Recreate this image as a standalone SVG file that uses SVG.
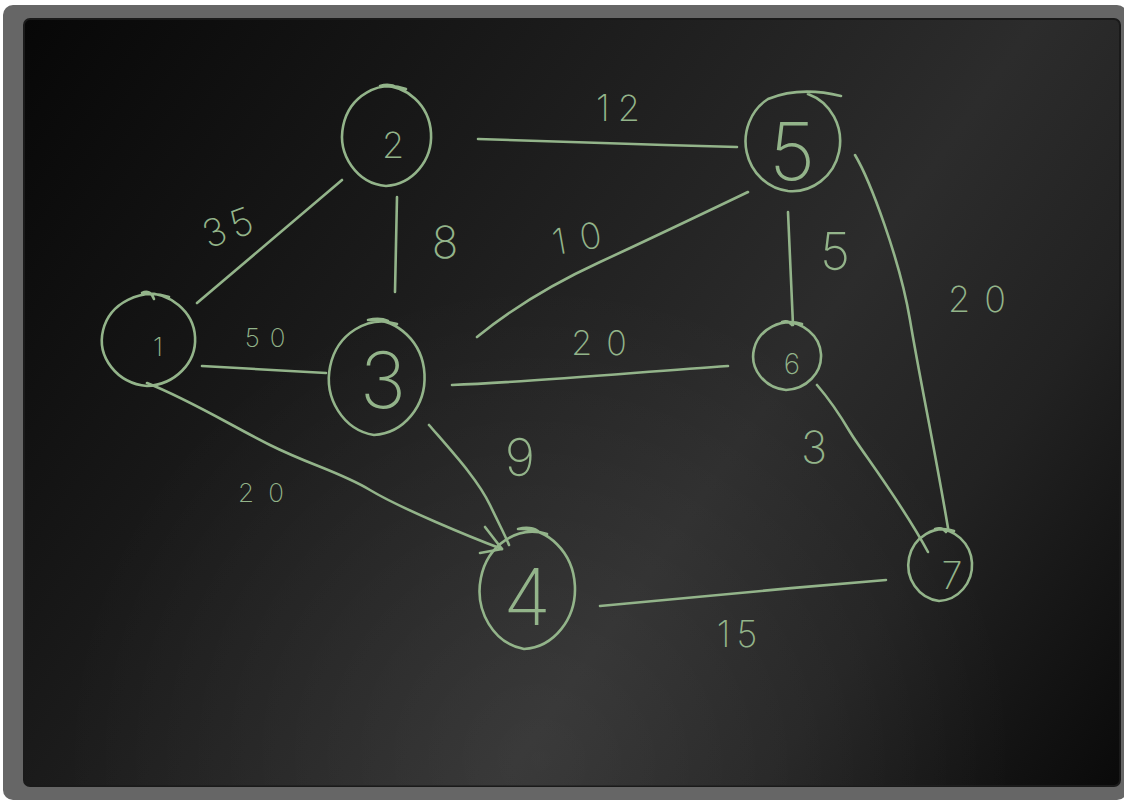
<svg xmlns="http://www.w3.org/2000/svg" width="1124" height="800" viewBox="0 0 1124 800">
<defs>
<linearGradient id="board" gradientUnits="userSpaceOnUse" x1="24" y1="19" x2="1120" y2="786">
<stop offset="0" stop-color="#070707"/>
<stop offset="0.35" stop-color="#1c1c1c"/>
<stop offset="0.62" stop-color="#2c2c2c"/>
<stop offset="0.78" stop-color="#222"/>
<stop offset="1" stop-color="#0a0a0a"/>
</linearGradient>
<radialGradient id="sheen" gradientUnits="userSpaceOnUse" cx="540" cy="760" r="480">
<stop offset="0" stop-color="#fff" stop-opacity="0.07"/>
<stop offset="1" stop-color="#fff" stop-opacity="0"/>
</radialGradient>
<style>
.ch{fill:none;stroke:#93b48a;stroke-width:2.6;stroke-linecap:round;stroke-linejoin:round}
.t{fill:#93b48a;font-family:Inter,"Open Sans","DejaVu Sans",sans-serif;font-weight:200;text-anchor:middle}
</style>
</defs>
<rect x="0" y="0" width="1124" height="800" fill="#fff"/>
<rect x="3" y="5" width="1124" height="795" rx="10" fill="#666"/>
<rect x="24" y="19" width="1096" height="767" rx="6" fill="url(#board)" stroke="#1a1a1a" stroke-width="2"/>
<rect x="24" y="19" width="1096" height="767" rx="6" fill="url(#sheen)"/>

<g id="connectors">
<path class="ch" d="M197 303 L342 180"/>
<path class="ch" d="M397 197 L395 292"/>
<path class="ch" d="M202 366 L326 373"/>
<path class="ch" d="M147 383 C190 400 230 425 270 445 S340 472 370 490 S470 537 502 549"/>
<path class="ch" d="M485 527 L502 549 L480 553"/>
<path class="ch" d="M429 425 C455 455 478 480 490 505 S505 535 509 545"/>
<path class="ch" d="M478 139 C560 141 650 145 737 147"/>
<path class="ch" d="M477 337 C510 310 550 285 600 262 S700 215 748 192"/>
<path class="ch" d="M452 385 C530 382 640 372 728 366"/>
<path class="ch" d="M788 212 L793 325"/>
<path class="ch" d="M855 155 C870 180 900 260 910 320 S935 450 948 528"/>
<path class="ch" d="M817 385 C830 400 840 415 850 432 S900 500 928 552"/>
<path class="ch" d="M600 606 C680 598 790 588 886 580"/>
</g>

<g id="edge-labels">
<text class="t" font-size="38" x="230" y="240" letter-spacing="6" transform="rotate(-20 230 225)">35</text>
<text class="t" font-size="44" x="445" y="258">8</text>
<text class="t" font-size="26" x="270" y="347" letter-spacing="10">50</text>
<text class="t" font-size="26" x="268" y="502" letter-spacing="14">20</text>
<text class="t" font-size="52" x="520" y="476">9</text>
<text class="t" font-size="36" x="622" y="121" letter-spacing="8">12</text>
<text class="t" font-size="36" x="584" y="250" letter-spacing="14" transform="rotate(-10 584 238)">10</text>
<text class="t" font-size="34" x="606" y="355" letter-spacing="14">20</text>
<text class="t" font-size="52" x="835" y="270">5</text>
<text class="t" font-size="36" x="984" y="312" letter-spacing="14">20</text>
<text class="t" font-size="44" x="814" y="463">3</text>
<text class="t" font-size="36" x="740" y="647" letter-spacing="6">15</text>
</g>

<g id="node1">
<path class="ch" d="M169 297 A50 46 0 1 0 147 386 A50 46 0 1 0 142 293 q8 -4 12 6"/>
<text class="t" font-size="26" x="158" y="356">1</text>
</g>
<g id="node2">
<path class="ch" d="M406 89 A48 50 0 1 0 386 186 A48 50 0 1 0 380 86 q10 -3 18 2"/>
<text class="t" font-size="36" x="393" y="158">2</text>
</g>
<g id="node3">
<path class="ch" d="M397 324 A53 57 0 1 0 374 435 A53 57 0 1 0 368 320 q12 -3 20 1"/>
<text class="t" font-size="78" x="383" y="408">3</text>
</g>
<g id="node4">
<path class="ch" d="M547 534 A53 59 0 1 0 524 649 A53 59 0 1 0 518 529 q12 -3 20 2"/>
<text class="t" font-size="78" x="527" y="625">4</text>
</g>
<g id="node5">
<path class="ch" d="M841 96 Q800 86 768 99 A48 50 0 0 0 788 191 A48 50 0 0 0 808 94"/>
<text class="t" font-size="80" x="792" y="180">5</text>
</g>
<g id="node6">
<path class="ch" d="M802 324 A37 34 0 1 0 786 390 A37 34 0 1 0 782 322 q6 -2 10 3"/>
<text class="t" font-size="28" x="792" y="374">6</text>
</g>
<g id="node7">
<path class="ch" d="M954 531 A35 36 0 1 0 939 601 A35 36 0 1 0 935 529 q7 -2 11 3"/>
<text class="t" font-size="38" x="952" y="589">7</text>
</g>
</svg>
